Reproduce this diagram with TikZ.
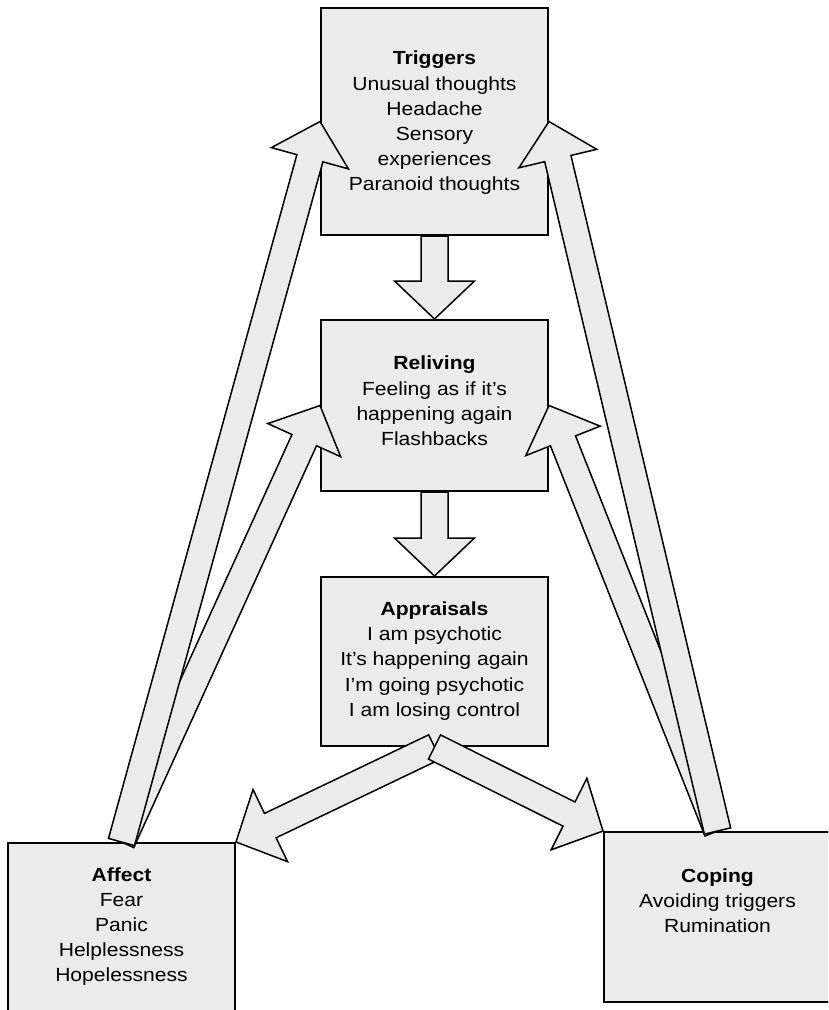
\documentclass[tikz,border=0pt]{standalone}
\usepackage{fontspec}
\setmainfont{Liberation Sans}[FakeStretch=1.11]
\usetikzlibrary{calc}
\definecolor{boxfill}{RGB}{235,235,235}
\tikzset{
  box/.style={draw=black, line width=2pt, fill=boxfill, minimum width=227pt, inner sep=0pt},
  boxtext/.style={align=center, inner sep=0pt, font=\fontsize{19}{25.2}\selectfont},
  flow/.style={draw=black, line width=1.5pt, fill=boxfill, line join=miter},
}
% block arrow from #1 (tail centre) to #2 (tip):
% shaft 27pt wide, head 80pt wide and 38pt long
\newcommand\blockarrow[2]{%
  \draw[flow] let \p1=(#1), \p2=(#2),
      \n1={atan2(\y2-\y1,\x2-\x1)},
      \n2={veclen(\x2-\x1,\y2-\y1)-38pt}
    in ($(\p1)+(\n1+90:13.5pt)$)
    -- ($(\p1)+(\n1:\n2)+(\n1+90:13.5pt)$)
    -- ($(\p1)+(\n1:\n2)+(\n1+90:40pt)$)
    -- (\p2)
    -- ($(\p1)+(\n1:\n2)+(\n1-90:40pt)$)
    -- ($(\p1)+(\n1:\n2)+(\n1-90:13.5pt)$)
    -- ($(\p1)+(\n1-90:13.5pt)$) -- cycle;}
\begin{document}
\begin{tikzpicture}[x=1pt, y=-1pt]
\useasboundingbox (0,0) rectangle (828,1010);
\clip (0,0) rectangle (828,1010);

% boxes
\node[box, minimum height=227pt] (trig) at (434.5,121.5) {};
\node[box, minimum height=171pt] (reli) at (434.5,405.5) {};
\node[box, minimum height=169pt] (appr) at (434.5,661.5) {};
\node[box, minimum height=170pt] (affe) at (121.5,928) {};
\node[box, minimum height=170pt] (copi) at (717.5,917) {};

% box contents
\node[boxtext] (trigtxt) at (434.5,123) {\textbf{Triggers}\\Unusual thoughts\\Headache\\Sensory\\experiences\\Paranoid thoughts};
\node[boxtext] (relitxt) at (434.5,401) {\textbf{Reliving}\\Feeling as if it’s\\happening again\\Flashbacks};
\node[boxtext] (apprtxt) at (434.5,661) {\textbf{Appraisals}\\I am psychotic\\It’s happening again\\I’m going psychotic\\I am losing control};
\node[boxtext] (affetxt) at (121.5,926.5) {\textbf{Affect}\\Fear\\Panic\\Helplessness\\Hopelessness};
\node[boxtext] (copitxt) at (717.5,900.5) {\textbf{Coping}\\Avoiding triggers\\Rumination};

% feedback arrows
\blockarrow{affe.north}{reli.west}
\blockarrow{affe.north}{trig.west}
\blockarrow{copi.north}{reli.east}
\blockarrow{copi.north}{trig.east}

% main sequence
\blockarrow{trig.south}{reli.north}
\blockarrow{reli.south}{appr.north}
\blockarrow{appr.south}{affe.north east}
\blockarrow{appr.south}{copi.north west}
\end{tikzpicture}
\end{document}
